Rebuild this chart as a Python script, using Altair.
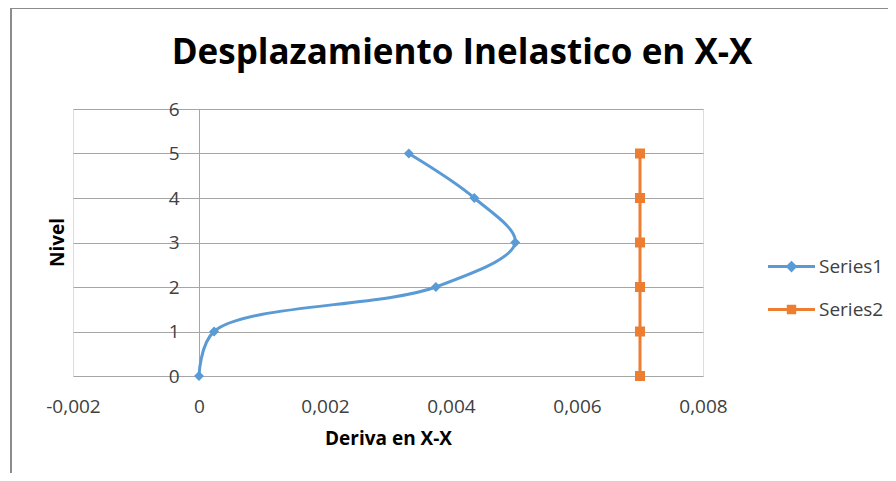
import altair as alt
import pandas as pd

# ---- data ----
levels = [0, 1, 2, 3, 4, 5]
series1 = [0.0, 0.00024, 0.00376, 0.00502, 0.00437, 0.00333]
series2 = [0.007, 0.007, 0.007, 0.007, 0.007, 0.007]
series_names = ["Series1", "Series2"]
x_ticks = [-0.002, 0.0, 0.002, 0.004, 0.006, 0.008]
y_ticks = [0, 1, 2, 3, 4, 5, 6]

colors = ["#5B9BD5", "#ED7D31"]
shapes = ["diamond", "square"]
# legend glyphs: a line segment with the series marker in the middle
legend_glyphs = [
    "M-1,-0.064H1V0.064H-1Z M0,-0.25L0.25,0L0,0.25L-0.25,0Z",
    "M-1,-0.064H1V0.064H-1Z M-0.2,-0.2H0.2V0.2H-0.2Z",
]
FONT = "Open Sans"

rows = []
for lv, v in zip(levels, series1):
    rows.append({"level": lv, "deriva": v, "series": series_names[0]})
for lv, v in zip(levels, series2):
    rows.append({"level": lv, "deriva": v, "series": series_names[1]})
df = pd.DataFrame(rows)

W, H = 630, 267

x_enc = alt.X(
    "deriva:Q",
    scale=alt.Scale(domain=[x_ticks[0], x_ticks[-1]], nice=False, zero=False),
    axis=alt.Axis(
        values=x_ticks,
        grid=False,
        domain=False,
        ticks=False,
        labelFlush=False,
        labelExpr="datum.value == 0 ? '0' : replace(replace(format(datum.value, '.3f'), '.', ','), '\u2212', '-')",
        labelFont=FONT,
        labelFontSize=19,
        labelColor="#404040",
        labelPadding=21,
        title="Deriva en X-X",
        titleFont=FONT,
        titleFontSize=19,
        titleFontWeight="bold",
        titleColor="#000000",
        titlePadding=13,
    ),
)
y_enc = alt.Y(
    "level:Q",
    scale=alt.Scale(domain=[y_ticks[0], y_ticks[-1]], nice=False),
    axis=alt.Axis(
        values=y_ticks,
        offset=-126,
        grid=True,
        gridColor="#a6a6a6",
        gridWidth=1,
        domain=True,
        domainColor="#a6a6a6",
        domainWidth=1,
        ticks=False,
        labelFont=FONT,
        labelFontSize=19,
        labelColor="#404040",
        labelPadding=20,
        title="Nivel",
        titleFont=FONT,
        titleFontSize=19,
        titleFontWeight="bold",
        titleColor="#000000",
        titleAngle=270,
        titleX=-142,
        titleY=133,
        titleAlign="center",
        titleBaseline="middle",
    ),
)

line = alt.Chart(df).mark_line(interpolate="catmull-rom", strokeWidth=3).encode(
    x=x_enc,
    y=y_enc,
    color=alt.Color("series:N", scale=alt.Scale(domain=series_names, range=colors), legend=None),
    order=alt.Order("level:Q"),
)

points = alt.Chart(df).mark_point(filled=True, opacity=1).encode(
    x=x_enc,
    y=y_enc,
    color=alt.Color("series:N", scale=alt.Scale(domain=series_names, range=colors), legend=None),
    shape=alt.Shape("series:N", scale=alt.Scale(domain=series_names, range=shapes), legend=None),
    size=alt.value(100),
)

legend_def = alt.Legend(
    title=None,
    orient="none",
    legendX=695,
    legendY=134,
    symbolSize=2209,
    symbolStrokeWidth=0,
    symbolOpacity=1,
    labelFont=FONT,
    labelFontSize=19,
    labelColor="#404040",
    labelOffset=4,
    rowPadding=9,
    padding=0,
)

# legend carrier: no data rows drawn, only the legend from the fixed scale domains
legend_layer = (
    alt.Chart(df)
    .transform_filter("false")
    .mark_point(filled=True, opacity=1, strokeWidth=0)
    .encode(
        x=x_enc,
        y=y_enc,
        color=alt.Color("series:N", scale=alt.Scale(domain=series_names, range=colors), legend=legend_def),
        shape=alt.Shape("series:N", scale=alt.Scale(domain=series_names, range=legend_glyphs), legend=legend_def),
        size=alt.value(2209),
    )
)

# chart frame (decorative border)
frame_top = alt.Chart(df).mark_rule(color="#8c8c8c", strokeWidth=2).encode(
    x=alt.value(-62), x2=alt.value(830), y=alt.value(-101)
)
frame_left = alt.Chart(df).mark_rule(color="#8c8c8c", strokeWidth=2).encode(
    x=alt.value(-62), y=alt.value(-101), y2=alt.value(H + 120)
)

chart = (
    alt.layer(line, points, legend_layer, frame_top, frame_left)
    .resolve_scale(color="independent", shape="independent")
    .properties(
        width=W,
        height=H,
        padding={"left": 65, "top": 101, "right": 185, "bottom": 97},
        autosize=alt.AutoSizeParams(type="none"),
        title=alt.TitleParams(
            text="Desplazamiento Inelastico en X-X",
            font=FONT,
            fontSize=35,
            fontWeight="bold",
            color="#000000",
            anchor="middle",
            frame="group",
            baseline="alphabetic",
            dx=74,
            offset=-92,
        ),
    )
    .configure_view(stroke=None)
    .configure(background="white")
)

chart.save("out.html", embed_options={"renderer": "svg", "actions": False})
